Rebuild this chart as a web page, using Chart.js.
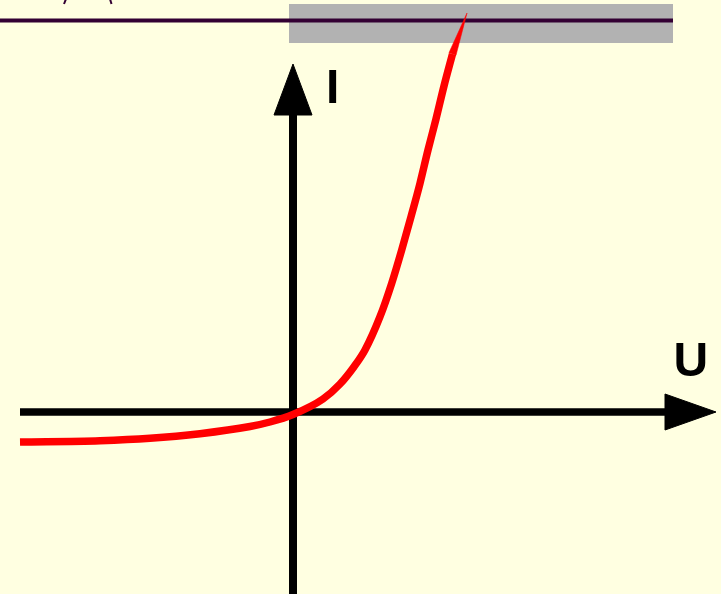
<!DOCTYPE html>
<html>
<head>
<meta charset="utf-8">
<script src="https://cdn.jsdelivr.net/npm/chart.js@4/dist/chart.umd.min.js"></script>
<style>
  html, body { margin: 0; padding: 0; background: #FFFFE1; }
  #wrap { width: 721px; height: 594px; position: relative; }
</style>
</head>
<body>
<div id="wrap"><canvas id="c" width="721" height="594"></canvas></div>
<script>
// Diode characteristic I(U) (arbitrary units, origin at axis crossing)
const curveU = [-2.73, -1.93, -1.43, -0.93, -0.43, -0.23, 0.0, 0.30, 0.47, 0.61, 0.72, 0.87, 0.987, 1.087, 1.18, 1.27, 1.35, 1.43, 1.51, 1.595];
const curveI = [-0.30, -0.287, -0.263, -0.217, -0.145, -0.10, -0.025, 0.13, 0.28, 0.453, 0.62, 0.953, 1.287, 1.62, 1.953, 2.287, 2.62, 2.93, 3.26, 3.58];
// tapered tip of the curve (closed outline)
const tipU = [1.5596, 1.74, 1.6304, 1.5596];
const tipI = [3.5925, 3.99, 3.5675, 3.5925];

// Axes (U axis horizontal, I axis vertical)
const uAxisU = [-2.73, 3.72];
const uAxisI = [0, 0];
const uArrowU = [3.72, 4.23, 3.72, 3.72];
const uArrowI = [0.18, 0.0, -0.18, 0.18];
const iAxisU = [0, 0];
const iAxisI = [-1.9, 2.97];
const iArrowU = [-0.19, 0.0, 0.19, -0.19];
const iArrowI = [2.97, 3.48, 2.97, 2.97];

// Top decoration: gray band and dark line
const bandU = [-0.04, 3.80, 3.80, -0.04, -0.04];
const bandI = [4.08, 4.08, 3.69, 3.69, 4.08];
const topLineU = [-2.95, 3.80];
const topLineI = [3.915, 3.915];
const markAU = [-2.29, -2.27];
const markAI = [4.08, 4.13];
const markBU = [-1.83, -1.815];
const markBI = [4.13, 4.08];

// Axis labels
const labelText = ['I', 'U'];
const labelU = [0.33, 3.805];
const labelI = [3.09, 0.36];

function pts(us, is) { return us.map((u, k) => ({x: u, y: is[k]})); }

const labelPlugin = {
  id: 'axisLabels',
  afterDatasetsDraw(chart) {
    const ctx = chart.ctx;
    const xs = chart.scales.x, ys = chart.scales.y;
    ctx.save();
    ctx.fillStyle = '#000000';
    ctx.font = 'bold 48px "Liberation Sans", Arial, sans-serif';
    ctx.textBaseline = 'alphabetic';
    ctx.textAlign = 'left';
    labelText.forEach((t, k) => {
      ctx.fillText(t, xs.getPixelForValue(labelU[k]), ys.getPixelForValue(labelI[k]));
    });
    ctx.restore();
  }
};

new Chart(document.getElementById('c'), {
  type: 'line',
  data: {
    datasets: [
      {
        label: 'I(U)',
        data: pts(curveU, curveI),
        borderColor: '#FF0000',
        borderWidth: 7.5,
        pointRadius: 0,
        fill: false,
        cubicInterpolationMode: 'monotone',
        borderCapStyle: 'butt',
        borderJoinStyle: 'round',
        order: 1
      },
      { data: pts(tipU, tipI), borderColor: '#FF0000', backgroundColor: '#FF0000', borderWidth: 0.5, pointRadius: 0, fill: 'shape', tension: 0, order: 1 },
      { data: pts(uAxisU, uAxisI), borderColor: '#000', borderWidth: 7.5, pointRadius: 0, fill: false, tension: 0, order: 2 },
      { data: pts(uArrowU, uArrowI), borderColor: '#000', backgroundColor: '#000', borderWidth: 1, pointRadius: 0, fill: 'shape', tension: 0, order: 2 },
      { data: pts(iAxisU, iAxisI), borderColor: '#000', borderWidth: 8, pointRadius: 0, fill: false, tension: 0, order: 2 },
      { data: pts(iArrowU, iArrowI), borderColor: '#000', backgroundColor: '#000', borderWidth: 1, pointRadius: 0, fill: 'shape', tension: 0, order: 2 },
      { data: pts(topLineU, topLineI), borderColor: '#330033', borderWidth: 4, pointRadius: 0, fill: false, tension: 0, order: 3 },
      { data: pts(markAU, markAI), borderColor: '#330033', borderWidth: 2, pointRadius: 0, fill: false, tension: 0, order: 3 },
      { data: pts(markBU, markBI), borderColor: '#330033', borderWidth: 2, pointRadius: 0, fill: false, tension: 0, order: 3 },
      { data: pts(bandU, bandI), borderColor: '#B2B2B2', backgroundColor: '#B2B2B2', borderWidth: 0, pointRadius: 0, fill: 'shape', tension: 0, order: 4 }
    ]
  },
  options: {
    responsive: false,
    animation: false,
    maintainAspectRatio: false,
    layout: { padding: 0 },
    scales: {
      x: { type: 'linear', min: -2.93, max: 4.28, display: false },
      y: { type: 'linear', min: -1.82, max: 4.12, display: false }
    },
    plugins: {
      legend: { display: false },
      tooltip: { enabled: false },
      title: { display: false }
    }
  },
  plugins: [labelPlugin]
});
</script>
</body>
</html>
